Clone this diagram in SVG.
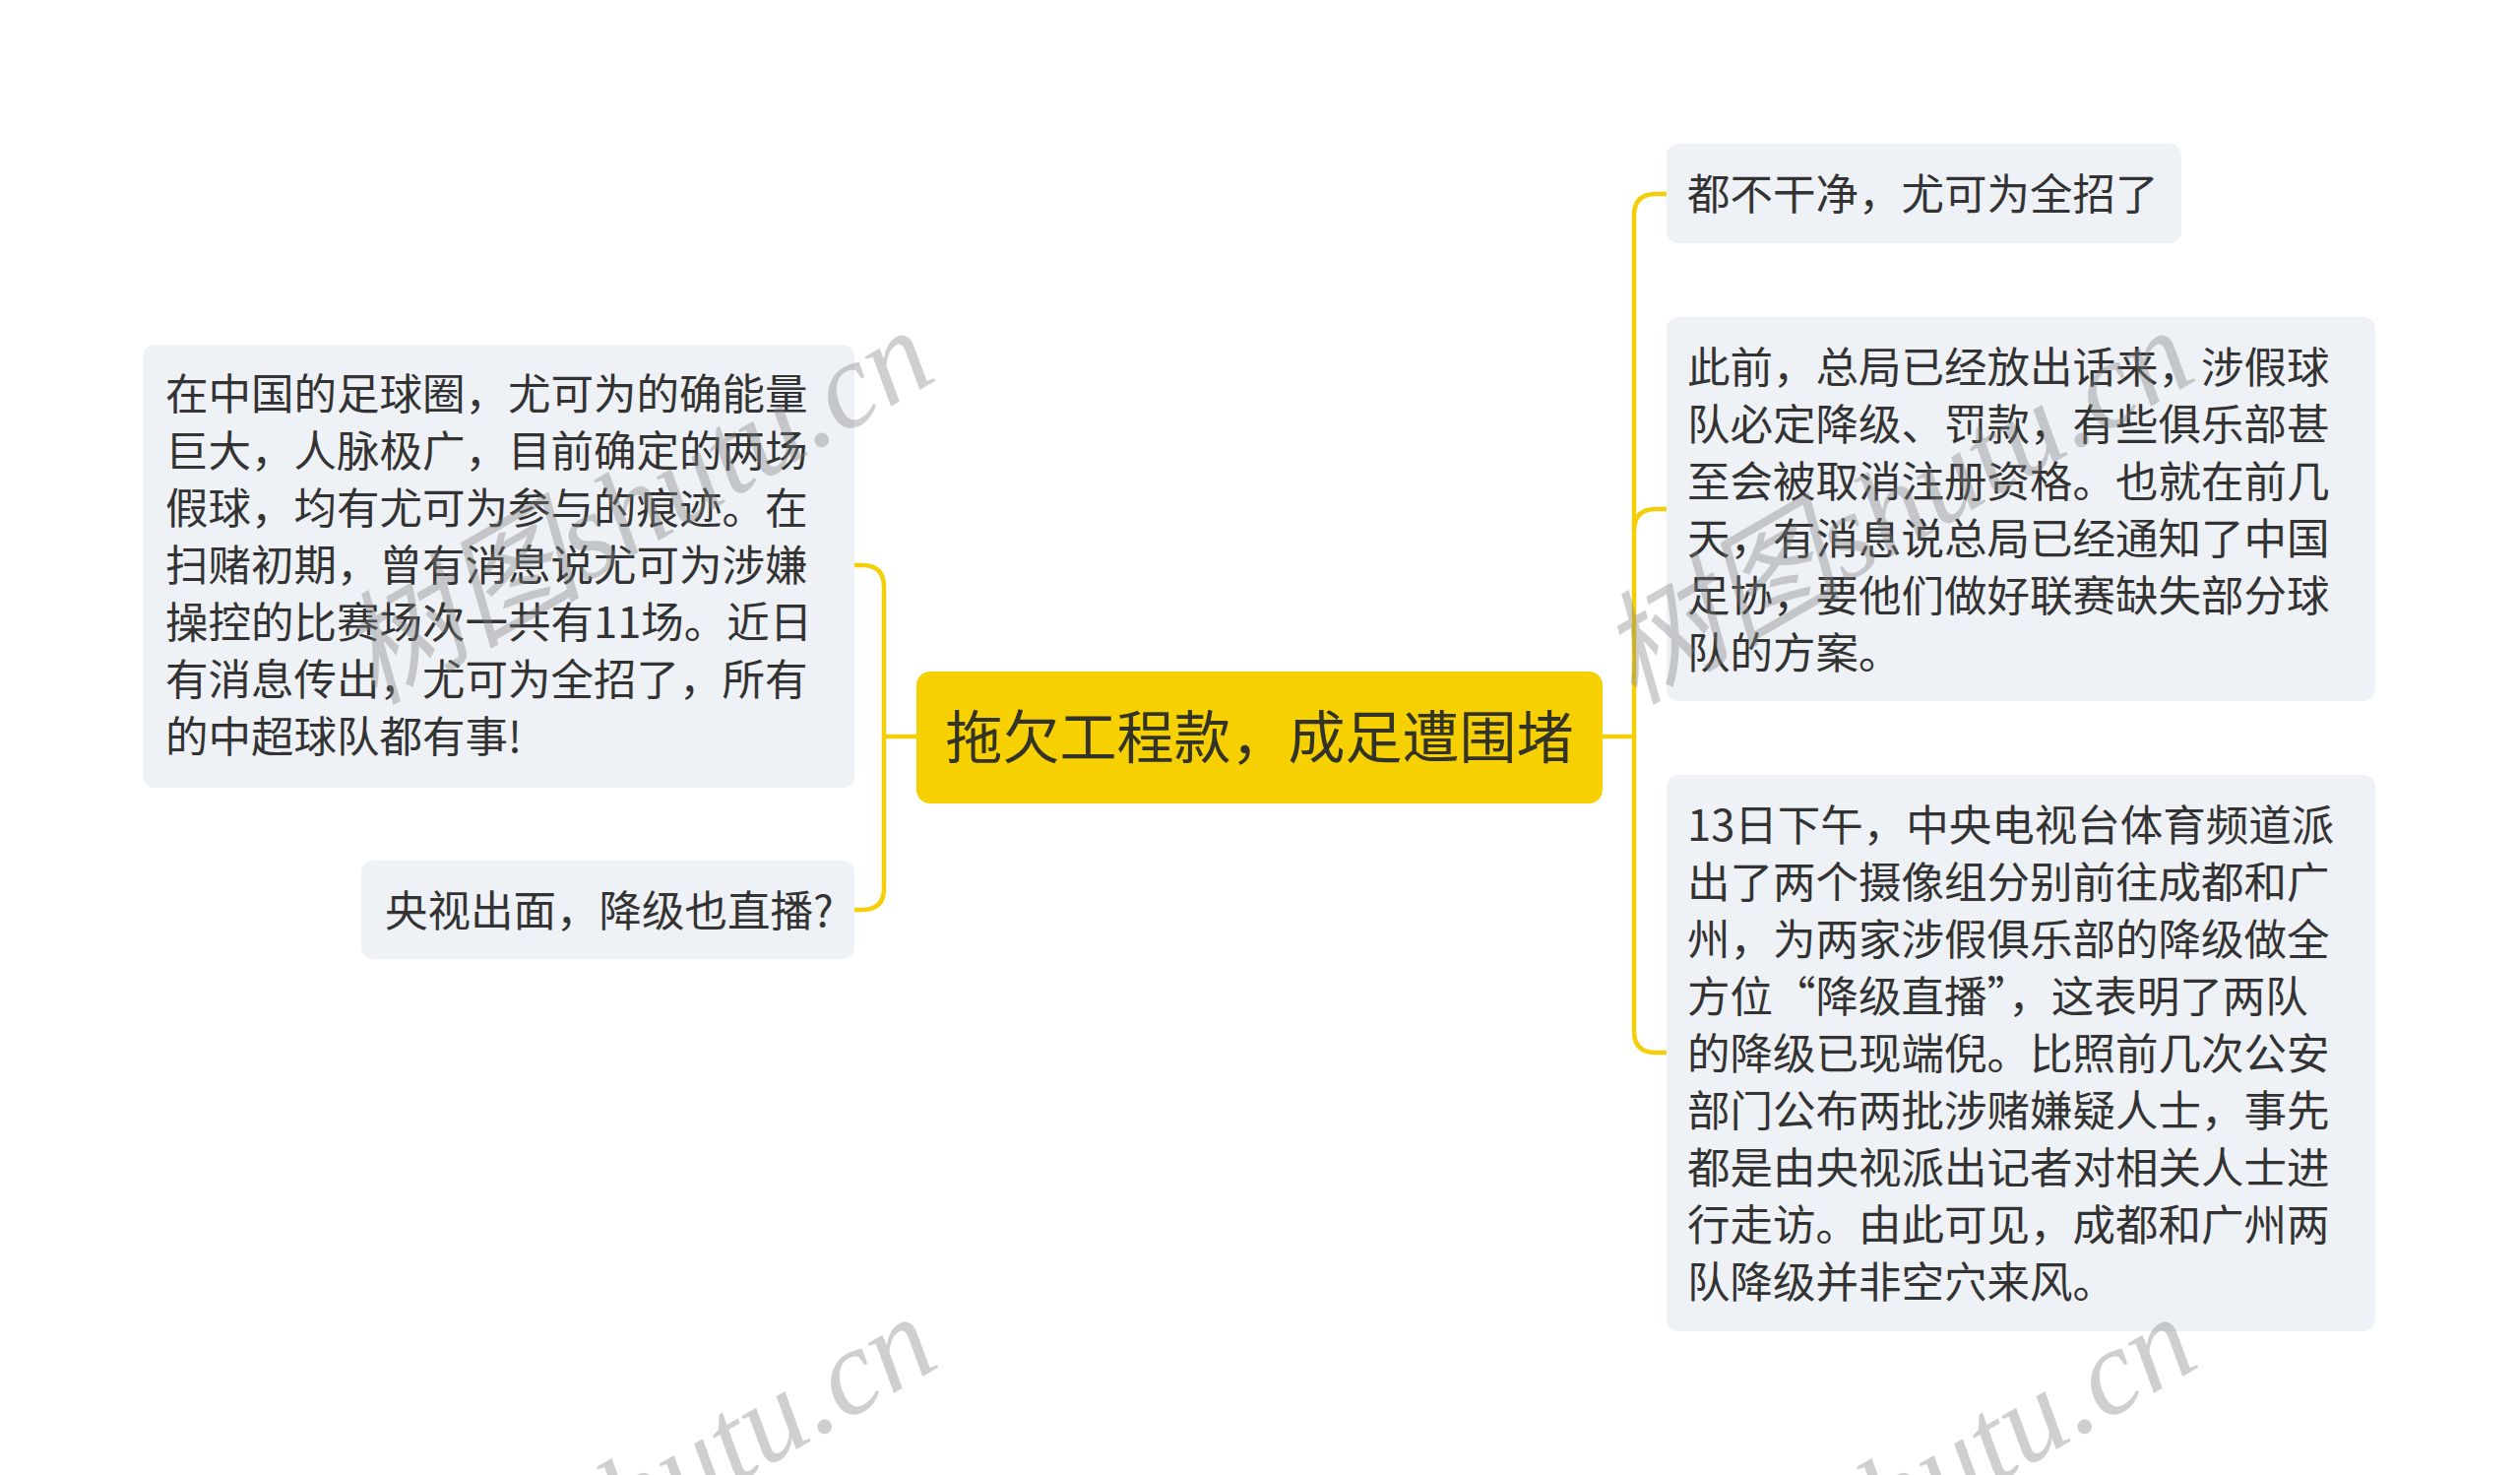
<svg xmlns="http://www.w3.org/2000/svg" width="2560" height="1498" viewBox="0 0 2560 1498">
<style>
.node{fill:#EEF1F5;}
.txt{font-family:"Noto Sans CJK SC","Noto Sans",sans-serif;font-size:43.5px;fill:#333333;}
.main{font-family:"Noto Sans CJK SC","Noto Sans",sans-serif;font-size:58px;fill:#333326;}
.conn{fill:none;stroke:#F5CE0A;stroke-width:4.5;stroke-linecap:round;stroke-linejoin:round;}
.wm{font-family:"Liberation Serif","Noto Sans CJK SC",serif;font-style:italic;font-size:124px;fill:#808080;fill-opacity:0.38;}
</style>
<rect width="2560" height="1498" fill="#FFFFFF"/>
<g id="connectors">
<path class="conn" d="M931,748 H898"/>
<path class="conn" d="M868,574 H876 Q898,574 898,596 V902 Q898,924 876,924 H868"/>
<path class="conn" d="M1628,748 H1660"/>
<path class="conn" d="M1693,197 H1682 Q1660,197 1660,219 V1047 Q1660,1069 1682,1069 H1693"/>
<path class="conn" d="M1660,539 Q1660,517 1682,517 H1693"/>
</g>
<g id="central">
<rect x="931" y="682" width="697" height="134" rx="14" fill="#F6D000"/>
<text class="main" x="1279.5" y="770" text-anchor="middle">拖欠工程款，成足遭围堵</text>
</g>
<g id="left1">
<rect class="node" x="145" y="350" width="723" height="450" rx="12"/>
<text class="txt" x="168" y="415.5">
<tspan x="168">在中国的足球圈，尤可为的确能量</tspan>
<tspan x="168" dy="58">巨大，人脉极广，目前确定的两场</tspan>
<tspan x="168" dy="58">假球，均有尤可为参与的痕迹。在</tspan>
<tspan x="168" dy="58">扫赌初期，曾有消息说尤可为涉嫌</tspan>
<tspan x="168" dy="58">操控的比赛场次一共有11场。近日</tspan>
<tspan x="168" dy="58">有消息传出，尤可为全招了，所有</tspan>
<tspan x="168" dy="58">的中超球队都有事!</tspan>
</text>
</g>
<g id="left2">
<rect class="node" x="367" y="874" width="501" height="100" rx="12"/>
<text class="txt" x="391" y="940.5">央视出面，降级也直播?</text>
</g>
<g id="right1">
<rect class="node" x="1693" y="146" width="523" height="101" rx="12"/>
<text class="txt" x="1714" y="213">都不干净，尤可为全招了</text>
</g>
<g id="right2">
<rect class="node" x="1693" y="322" width="720" height="390" rx="12"/>
<text class="txt" x="1714" y="388.5">
<tspan x="1714">此前，总局已经放出话来，涉假球</tspan>
<tspan x="1714" dy="58">队必定降级、罚款，有些俱乐部甚</tspan>
<tspan x="1714" dy="58">至会被取消注册资格。也就在前几</tspan>
<tspan x="1714" dy="58">天，有消息说总局已经通知了中国</tspan>
<tspan x="1714" dy="58">足协，要他们做好联赛缺失部分球</tspan>
<tspan x="1714" dy="58">队的方案。</tspan>
</text>
</g>
<g id="right3">
<rect class="node" x="1693" y="787" width="720" height="565" rx="12"/>
<text class="txt" x="1714" y="854">
<tspan x="1714">13日下午，中央电视台体育频道派</tspan>
<tspan x="1714" dy="58">出了两个摄像组分别前往成都和广</tspan>
<tspan x="1714" dy="58">州，为两家涉假俱乐部的降级做全</tspan>
<tspan x="1714" dy="58">方位“降级直播”，这表明了两队</tspan>
<tspan x="1714" dy="58">的降级已现端倪。比照前几次公安</tspan>
<tspan x="1714" dy="58">部门公布两批涉赌嫌疑人士，事先</tspan>
<tspan x="1714" dy="58">都是由央视派出记者对相关人士进</tspan>
<tspan x="1714" dy="58">行走访。由此可见，成都和广州两</tspan>
<tspan x="1714" dy="58">队降级并非空穴来风。</tspan>
</text>
</g>
<g id="watermarks">
<text class="wm" text-anchor="end" transform="translate(955,384) rotate(-30)">树图shutu.cn</text>
<text class="wm" text-anchor="end" transform="translate(2235,384) rotate(-30)">树图shutu.cn</text>
<text class="wm" text-anchor="end" transform="translate(958,1386) rotate(-30)">树图shutu.cn</text>
<text class="wm" text-anchor="end" transform="translate(2238,1386) rotate(-30)">树图shutu.cn</text>
</g>
</svg>
